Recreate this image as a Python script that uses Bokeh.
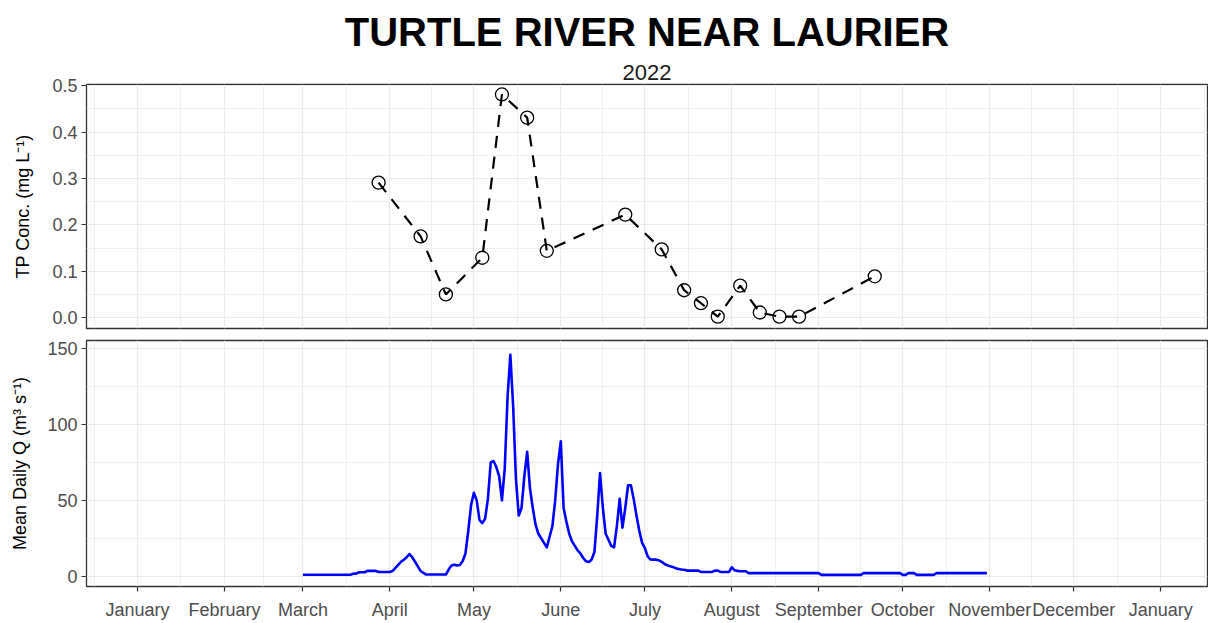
import pandas as pd
from bokeh.plotting import figure
from bokeh.layouts import column
from bokeh.models import (Range1d, FixedTicker, PrintfTickFormatter,
                          CustomJSTickFormatter, Title, ColumnDataSource)
from bokeh.embed import file_html
from bokeh.resources import INLINE

# ---------------- data ----------------
tp_dates = ["2022-03-28", "2022-04-12", "2022-04-21", "2022-05-04", "2022-05-11",
            "2022-05-20", "2022-05-27", "2022-06-24", "2022-07-07", "2022-07-15",
            "2022-07-21", "2022-07-27", "2022-08-04", "2022-08-11", "2022-08-18",
            "2022-08-25", "2022-09-21"]
tp_conc = [0.291, 0.175, 0.050, 0.129, 0.481, 0.431, 0.144, 0.222, 0.147, 0.059,
           0.031, 0.002, 0.069, 0.011, 0.002, 0.002, 0.089]

flow_start = "2022-03-01"
flow_q = [
    # March
    1.0, 1.0, 1.0, 1.0, 1.0, 1.0, 1.0, 1.0, 1.0, 1.0, 1.0, 1.0, 1.0, 1.0, 1.0, 1.0,
    1.0, 1.0, 1.7, 1.7, 2.6, 2.6, 2.6, 3.5, 3.5, 3.5, 3.5, 2.8, 2.8, 2.8, 2.8,
    # April
    2.8, 3.5, 5.4, 7.5, 9.5, 10.9, 12.5, 14.6, 12.5, 9.5, 6.5, 3.3, 2.2, 1.1, 1.1,
    1.1, 1.1, 1.1, 1.1, 1.1, 1.1, 4.4, 7.0, 7.6, 7.0, 7.4, 10, 15, 30, 47,
    # May
    55, 50, 37, 35, 38, 51, 75, 76, 72, 66, 50, 71, 118, 146, 112, 64, 40, 45, 66,
    82, 58, 45, 34, 28, 25, 22, 19, 26, 33, 50, 74,
    # June
    89, 45, 36, 28, 23, 20, 17, 15, 12, 9.8, 9.3, 11, 16, 40, 68, 45, 28, 24, 20,
    19, 33, 51, 32, 45, 60, 60, 51, 40, 30, 22,
    # July
    18.5, 13, 11, 10.9, 10.9, 10.5, 9.5, 8, 7.2, 6.5, 6.1, 5.2, 4.8, 4.4, 4.2, 3.7,
    3.7, 3.7, 3.7, 3.7, 2.8, 2.8, 2.8, 2.8, 2.8, 3.7, 3.7, 2.8, 2.8, 2.8, 2.8,
    # August
    5.9, 3.9, 3.5, 3.3, 3.3, 3.3, 2.0, 2.0, 2.0, 2.0, 2.0, 2.0, 2.0, 2.0, 2.0, 2.0,
    2.0, 2.0, 2.0, 2.0, 2.0, 2.0, 2.0, 2.0, 2.0, 2.0, 2.0, 2.0, 2.0, 2.0, 2.0,
    # September
    2.0, 0.9, 0.9, 0.9, 0.9, 0.9, 0.9, 0.9, 0.9, 0.9, 0.9, 0.9, 0.9, 0.9, 0.9, 0.9,
    2.0, 2.0, 2.0, 2.0, 2.0, 2.0, 2.0, 2.0, 2.0, 2.0, 2.0, 2.0, 2.0, 2.0,
    # October
    0.9, 0.9, 2.0, 2.0, 2.0, 0.9, 0.9, 0.9, 0.9, 0.9, 0.9, 0.9, 2.0, 2.0, 2.0, 2.0,
    2.0, 2.0, 2.0, 2.0, 2.0, 2.0, 2.0, 2.0, 2.0, 2.0, 2.0, 2.0, 2.0, 2.0, 2.0,
]

month_ticks = ["2022-01-01", "2022-02-01", "2022-03-01", "2022-04-01", "2022-05-01",
               "2022-06-01", "2022-07-01", "2022-08-01", "2022-09-01", "2022-10-01",
               "2022-11-01", "2022-12-01", "2023-01-01"]
month_names = ["January", "February", "March", "April", "May", "June", "July",
               "August", "September", "October", "November", "December"]
tp_ticks = [0.0, 0.1, 0.2, 0.3, 0.4, 0.5]
q_ticks = [0, 50, 100, 150]

title_text = "TURTLE RIVER NEAR LAURIER"
subtitle_text = "2022"
tp_label = "TP Conc. (mg L\u207b\u00b9)"
q_label = "Mean Daily Q (m\u00b3 s\u207b\u00b9)"

# ---------------- helpers ----------------
def ms(s):
    return pd.Timestamp(s).value / 1e6

DAY = 86400000.0
maj = [ms(s) for s in month_ticks]
edges = [ms("2021-12-01")] + maj + [ms("2023-02-01")]
minor = [(edges[i] + edges[i + 1]) / 2 for i in range(len(edges) - 1)]
x_start = ms("2022-01-01") - 18.2 * DAY
x_end = ms("2023-01-01") + 16.7 * DAY

tp_src = ColumnDataSource(dict(x=pd.to_datetime(tp_dates), y=tp_conc))
q_src = ColumnDataSource(dict(x=pd.date_range(flow_start, periods=len(flow_q), freq="D"),
                              y=flow_q))

FONT = "Liberation Sans"
GRID = "#EBEBEB"
TICKLAB = "#4D4D4D"
BORDER = "#333333"

month_fmt = CustomJSTickFormatter(
    args=dict(names=month_names),
    code="return names[new Date(tick).getUTCMonth()];")


def style(p, yticks, yminor, ylabel, standoff):
    p.outline_line_color = BORDER
    p.outline_line_width = 1.3
    p.background_fill_color = "white"
    p.border_fill_color = "white"
    p.xaxis.ticker = FixedTicker(ticks=maj, minor_ticks=minor)
    p.yaxis.ticker = FixedTicker(ticks=yticks, minor_ticks=yminor)
    for g in (p.xgrid, p.ygrid):
        g.grid_line_color = GRID
        g.grid_line_width = 1.2
        g.minor_grid_line_color = GRID
        g.minor_grid_line_width = 0.8
    for ax in (p.xaxis, p.yaxis):
        ax.axis_line_color = None
        ax.major_tick_line_color = BORDER
        ax.major_tick_line_width = 1.2
        ax.major_tick_in = 0
        ax.major_tick_out = 5
        ax.minor_tick_line_color = None
        ax.major_label_text_font = FONT
        ax.major_label_text_font_size = "18px"
        ax.major_label_text_color = TICKLAB
        ax.major_label_standoff = 4
    p.xaxis.major_label_standoff = 8
    p.yaxis.axis_label = ylabel
    p.yaxis.axis_label_text_font = FONT
    p.yaxis.axis_label_text_font_size = "18px"
    p.yaxis.axis_label_text_font_style = "normal"
    p.yaxis.axis_label_text_color = "black"
    p.yaxis.axis_label_standoff = standoff
    p.xaxis.formatter = month_fmt


# ---------------- top panel ----------------
p1 = figure(width=1208, height=334, x_axis_type="datetime",
            x_range=Range1d(x_start, x_end), y_range=Range1d(-0.0235, 0.5025),
            output_backend="svg", toolbar_location=None, title=None,
            min_border_left=86, min_border_right=1, min_border_top=84,
            min_border_bottom=6)
style(p1, tp_ticks, [0.05, 0.15, 0.25, 0.35, 0.45], tp_label, 16)
p1.yaxis.formatter = PrintfTickFormatter(format="%.1f")
p1.xaxis.visible = False

p1.add_layout(Title(text=subtitle_text, align="center", text_font=FONT,
                    text_font_size="22px", text_font_style="normal",
                    text_color="#1A1A1A", standoff=9), "above")
p1.add_layout(Title(text=title_text, align="center", text_font=FONT,
                    text_font_size="40px", text_font_style="bold",
                    text_color="black", standoff=10), "above")

p1.scatter("x", "y", source=tp_src, marker="circle", size=13,
           fill_color=None, line_color="black", line_width=1.3)
p1.line("x", "y", source=tp_src, line_color="black", line_width=2.2,
        line_dash="12 9")

# ---------------- bottom panel ----------------
p2 = figure(width=1208, height=289, x_axis_type="datetime",
            x_range=p1.x_range, y_range=Range1d(-6.8, 155.5),
            output_backend="svg", toolbar_location=None, title=None,
            min_border_left=86, min_border_right=1, min_border_top=6,
            min_border_bottom=37)
style(p2, q_ticks, [25, 75, 125], q_label, 14)

p2.line("x", "y", source=q_src, line_color="#0000FF", line_width=2.6,
        line_join="round")

layout = column(p1, p2, spacing=0)

open("out.html", "w").write(file_html(layout, INLINE))
